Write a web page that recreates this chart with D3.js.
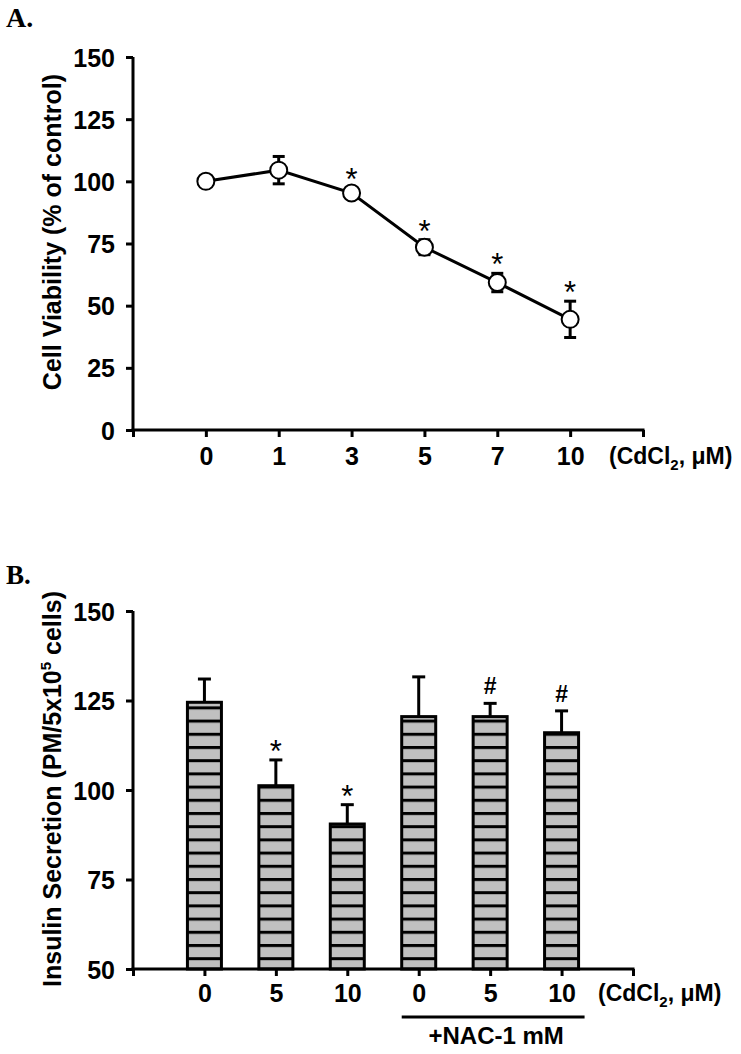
<!DOCTYPE html>
<html><head><meta charset="utf-8">
<script src="https://cdn.jsdelivr.net/npm/d3@7"></script>
<style>
body{margin:0;background:#fff;}
text{font-family:"Liberation Sans",Arial,sans-serif;font-weight:bold;fill:#000;}
</style></head>
<body><svg id="c" width="741" height="1054"></svg>
<script>
// Panel A data
const doseA = ["0","1","3","5","7","10"];
const viability = [100, 104.5, 95.3, 73.5, 59.3, 44.5];
const viabilityErr = [0, 5.5, 2, 3, 3.7, 7.3];
const sigA = ["", "", "*", "*", "*", "*"];
const ticksA = [0, 25, 50, 75, 100, 125, 150];
// Panel B data
const doseB = ["0","5","10","0","5","10"];
const insulin = [124.5, 101.2, 90.5, 120.5, 120.5, 116];
const insulinErr = [6.5, 7.2, 5.4, 11.1, 3.7, 6.1];
const sigB = ["", "*", "*", "", "#", "#"];
const ticksB = [50, 75, 100, 125, 150];

const svg = d3.select("#c");

// defs: striped pattern
const defs = svg.append("defs");
const pat = defs.append("pattern").attr("id","stripe").attr("patternUnits","userSpaceOnUse")
  .attr("width",10).attr("height",13.2).attr("y",969-10.3-1.5);
pat.append("rect").attr("width",10).attr("height",13.2).attr("fill","#c0c0c0");
pat.append("rect").attr("y",0).attr("width",10).attr("height",3).attr("fill","#000");

const tickFont = g => g.selectAll(".tick text").style("font-size","25px").style("font-family","'Liberation Sans',Arial,sans-serif");

// ---------- Panel A ----------
svg.append("text").attr("x",6).attr("y",27).style("font-family","'Liberation Serif','Times New Roman',serif")
  .style("font-size","28px").text("A.");

const xA = d3.scaleLinear().domain([0,7]).range([133,643]);
const yA = d3.scaleLinear().domain([0,150]).range([430,57]);

const gA = svg.append("g");
gA.append("g").attr("transform","translate(133,0)")
  .call(d3.axisLeft(yA).tickValues(ticksA).tickSize(7).tickPadding(11))
  .call(g=>{g.select(".domain").attr("stroke-width",3).attr("d",`M0,${yA(150)}V${yA(0)}`);
    g.selectAll(".tick line").attr("stroke-width",3);
    tickFont(g); g.selectAll(".tick text").attr("dy","0.36em");});
gA.append("g").attr("transform",`translate(0,${yA(0)})`)
  .call(d3.axisBottom(xA).tickValues([0,1,2,3,4,5,6,7]).tickSize(7).tickFormat(i=> (i>=1&&i<=6)?doseA[i-1]:""))
  .call(g=>{g.select(".domain").attr("stroke-width",3).attr("d",`M${xA(0)-1.5},0H${xA(7)+1.5}`);
    g.selectAll(".tick line").attr("stroke-width",3);
    tickFont(g); g.selectAll(".tick text").attr("y",null).attr("dy",null).attr("transform","translate(0,35)");});
gA.append("text").attr("x",609).attr("y",464).style("font-size","23px")
  .html('(CdCl<tspan dy="6" style="font-size:15px">2</tspan><tspan dy="-6">, μM)</tspan>');
gA.append("text").attr("transform","translate(61,232) rotate(-90)").attr("text-anchor","middle")
  .style("font-size","25px").text("Cell Viability (% of control)");

const ptsA = viability.map((v,i)=>({x:xA(i+1),v,e:viabilityErr[i],s:sigA[i]}));
gA.append("path").datum(ptsA).attr("fill","none").attr("stroke","#000").attr("stroke-width",3)
  .attr("d",d3.line().x(d=>d.x).y(d=>yA(d.v)));
ptsA.filter(d=>d.e>0).forEach(d=>{
  const g = gA.append("g").attr("stroke","#000").attr("stroke-width",3);
  g.append("line").attr("x1",d.x).attr("x2",d.x).attr("y1",yA(d.v+d.e)).attr("y2",yA(d.v-d.e));
  g.append("line").attr("x1",d.x-6).attr("x2",d.x+6).attr("y1",yA(d.v+d.e)).attr("y2",yA(d.v+d.e));
  g.append("line").attr("x1",d.x-6).attr("x2",d.x+6).attr("y1",yA(d.v-d.e)).attr("y2",yA(d.v-d.e));
});
gA.selectAll("circle").data(ptsA).join("circle").attr("cx",d=>d.x).attr("cy",d=>yA(d.v)).attr("r",8.5)
  .attr("fill","#fff").attr("stroke","#000").attr("stroke-width",2);
gA.selectAll(".sig").data(ptsA).join("text").attr("class","sig").attr("x",d=>d.x).attr("y",d=>yA(d.v+d.e)+2)
  .attr("text-anchor","middle").style("font-size","31px").style("font-weight","normal").text(d=>d.s);

// ---------- Panel B ----------
svg.append("text").attr("x",6).attr("y",584).style("font-family","'Liberation Serif','Times New Roman',serif")
  .style("font-size","27px").text("B.");

const xB = d3.scaleLinear().domain([0,7]).range([133,633]);
const yB = d3.scaleLinear().domain([50,150]).range([969,611]);
const gB = svg.append("g");
const barW = 34;
const barsB = insulin.map((v,i)=>({x:xB(i+1),v,e:insulinErr[i],s:sigB[i]}));
barsB.forEach(d=>{
  const g = gB.append("g").attr("stroke","#000").attr("stroke-width",3);
  g.append("line").attr("x1",d.x).attr("x2",d.x).attr("y1",yB(d.v+d.e)).attr("y2",yB(d.v));
  g.append("line").attr("x1",d.x-6.5).attr("x2",d.x+6.5).attr("y1",yB(d.v+d.e)).attr("y2",yB(d.v+d.e));
});
gB.selectAll("rect.bar").data(barsB).join("rect").attr("class","bar")
  .attr("x",d=>d.x-barW/2).attr("width",barW).attr("y",d=>yB(d.v)).attr("height",d=>yB(50)-yB(d.v))
  .attr("fill","url(#stripe)").attr("stroke","#000").attr("stroke-width",3);
gB.selectAll(".sig").data(barsB).join("text").attr("class","sig").attr("x",d=>d.x).attr("y",d=>yB(d.v+d.e)-(d.s==="#"?9:-2))
  .attr("text-anchor","middle").style("font-size",d=>d.s==="#"?"23px":"31px").style("font-weight",d=>d.s==="#"?"bold":"normal").text(d=>d.s);

gB.append("g").attr("transform","translate(133,0)")
  .call(d3.axisLeft(yB).tickValues(ticksB).tickSize(7).tickPadding(11))
  .call(g=>{g.select(".domain").attr("stroke-width",3).attr("d",`M0,${yB(150)}V${yB(50)}`);
    g.selectAll(".tick line").attr("stroke-width",3);
    tickFont(g); g.selectAll(".tick text").attr("dy","0.36em");});
gB.append("g").attr("transform",`translate(0,${yB(50)})`)
  .call(d3.axisBottom(xB).tickValues([0,1,2,3,4,5,6,7]).tickSize(7).tickFormat(i=> (i>=1&&i<=6)?doseB[i-1]:""))
  .call(g=>{g.select(".domain").attr("stroke-width",3).attr("d",`M${xB(0)-1.5},0H${xB(7)+1.5}`);
    g.selectAll(".tick line").attr("stroke-width",3);
    tickFont(g); g.selectAll(".tick text").attr("y",null).attr("dy",null).attr("transform","translate(0,33)");});
gB.append("text").attr("x",598).attr("y",1001).style("font-size","23px")
  .html('(CdCl<tspan dy="6" style="font-size:15px">2</tspan><tspan dy="-6">, μM)</tspan>');
gB.append("text").attr("transform","translate(61,789) rotate(-90)").attr("text-anchor","middle")
  .style("font-size","25px")
  .html('Insulin Secretion (PM/5x10<tspan dy="-10" style="font-size:15px">5</tspan><tspan dy="10"> cells)</tspan>');
gB.append("line").attr("x1",xB(4)-17).attr("x2",xB(6)+23).attr("y1",1017).attr("y2",1017).attr("stroke","#000").attr("stroke-width",3);
gB.append("text").attr("x",(xB(4)+xB(6))/2+6).attr("y",1044).attr("text-anchor","middle").style("font-size","24px").text("+NAC-1 mM");
</script></body></html>
